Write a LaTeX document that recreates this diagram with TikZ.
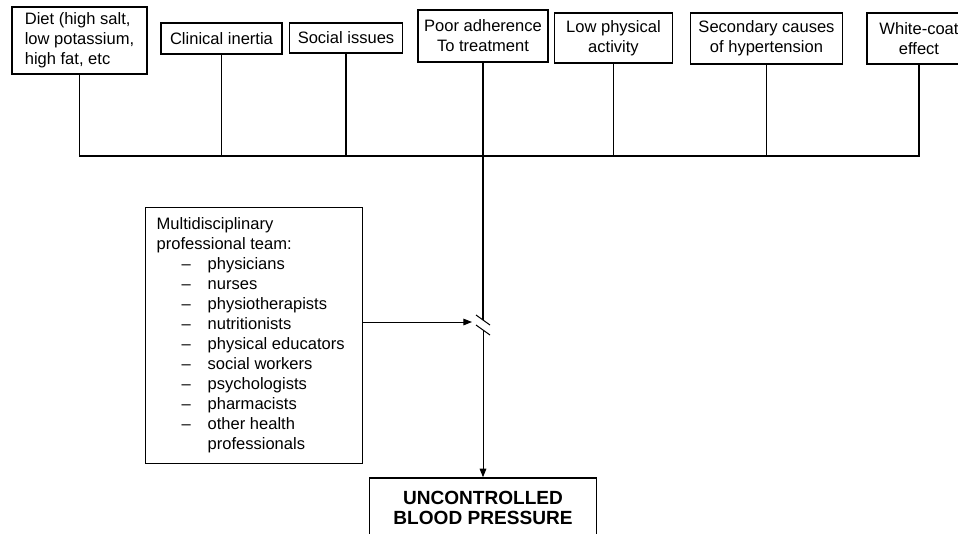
\documentclass[tikz,border=0pt]{standalone}
\usepackage{fontspec}
\setmainfont{Liberation Sans}
\usetikzlibrary{arrows.meta}

\newcommand{\teamitem}[1]{\hspace*{18.75pt}\makebox[19.5pt][l]{--}#1}

\begin{document}
\begin{tikzpicture}[x=0.75pt,y=-0.75pt,
    cause/.style={draw,line width=1.1pt,inner sep=2pt,align=center,
      font=\fontsize{12.4}{15}\selectfont},
    bus/.style={line width=1.4pt},
    thin/.style={line width=0.75pt},
    tip/.style={-{Triangle[length=6.5pt,width=5pt]}}]
    \useasboundingbox (0,0) rectangle (958,533);
    \clip (0,0) rectangle (958,533);

    % causes along the top
    \node[cause,align=left,minimum width=101.25pt,minimum height=50.25pt] (diet) at (79.5,40.5) {Diet (high salt,\\low potassium,\\high fat, etc};
    \node[cause,minimum width=90.75pt,minimum height=23.25pt] (inertia) at (221.5,38.5) {Clinical inertia};
    \node[cause,minimum width=84.75pt,minimum height=22.5pt] (social) at (346,38) {Social issues};
    \node[cause,minimum width=97.5pt,minimum height=39pt] (adh) at (483,36) {Poor adherence\\To treatment};
    \node[cause,minimum width=88.5pt,minimum height=37.5pt] (activity) at (613.5,38) {Low physical\\activity};
    \node[cause,minimum width=114pt,minimum height=38.25pt] (second) at (766.5,38.5) {Secondary causes\\of hypertension};
    \node[cause,minimum width=78pt,minimum height=38.25pt] (coat) at (919,38.5) {White-coat\\effect};

    \coordinate (bus) at (0,156);
    \draw[bus] (diet.south) -- (diet.south |- bus) -- (coat.south |- bus) -- (coat.south);
    \foreach \n in {inertia,social,activity,second}
        \draw[bus] (\n.south) -- (\n.south |- bus);

    % break in the main line
    \coordinate (brk) at (483,325);
    \draw[bus] (adh.south) -- ([yshift=3.75pt]brk);
    \draw[thin] ([shift={(-7,-10)}]brk) -- ([shift={(7,0)}]brk);
    \draw[thin] ([shift={(-7,0)}]brk) -- ([shift={(7,10)}]brk);

    % team
    \node[draw,line width=1pt,anchor=north west,minimum height=192pt,
      text width=146.25pt,inner xsep=8.25pt,align=flush left,
      font=\fontsize{12.4}{15}\selectfont] (team) at (145,207)
      {Multidisciplinary\\professional team:\\
       \teamitem{physicians}\\
       \teamitem{nurses}\\
       \teamitem{physiotherapists}\\
       \teamitem{nutritionists}\\
       \teamitem{physical educators}\\
       \teamitem{social workers}\\
       \teamitem{psychologists}\\
       \teamitem{pharmacists}\\
       \teamitem{other health}\\
       \hspace*{38.25pt}professionals};

    \coordinate (gap) at (472,322);
    \draw[thin,tip] (team.east |- gap) -- (gap);

    % outcome
    \node[draw,line width=1.1pt,minimum width=170.25pt,minimum height=45pt,
      align=center,font=\fontsize{14.3}{15}\selectfont\bfseries] (bp) at (483,508)
      {UNCONTROLLED\\BLOOD PRESSURE};
    \draw[thin,tip] ([yshift=-3.75pt]brk) -- (bp.north);
\end{tikzpicture}
\end{document}
